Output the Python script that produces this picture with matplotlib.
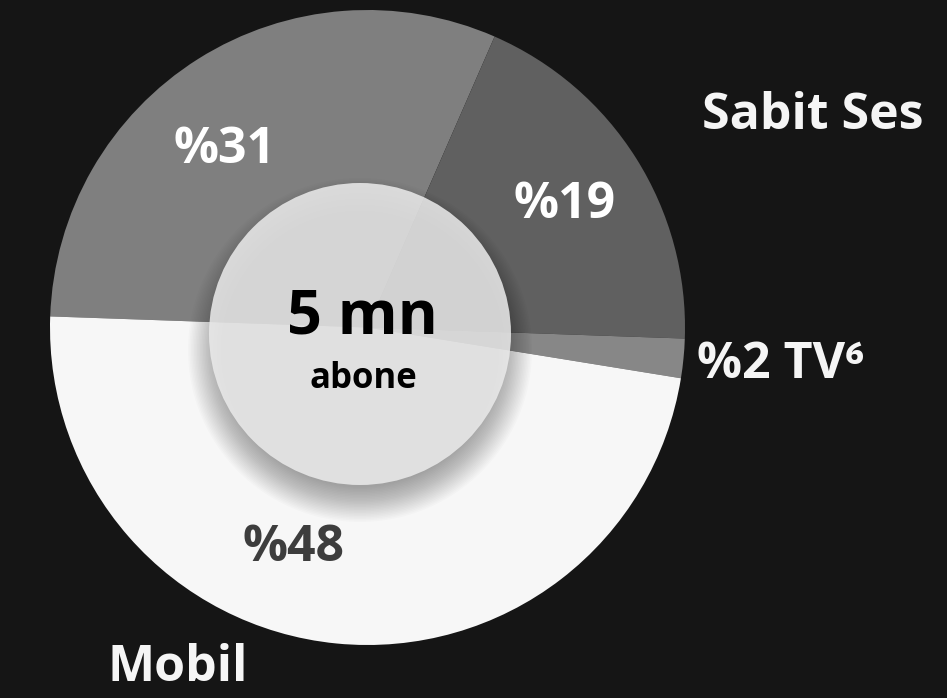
import matplotlib
matplotlib.use('Agg')
import matplotlib.pyplot as plt
from matplotlib.patches import Circle

# subscriber split, in percent
segments = ['Sabit Ses', 'Diger', 'TV', 'Mobil']
shares = [31, 19, 2, 48]
sliceColors = ['#7f7f7f', '#606060', '#878787', '#f7f7f7']
pctLabels = ['%31', '%19', '%2 TV\u2076', '%48']
totalText = '5 mn'
unitText = 'abone'

W, H = 947, 698
plt.rcParams['font.family'] = ['Open Sans', 'DejaVu Sans']

fig = plt.figure(figsize=(W/100., H/100.), dpi=100, facecolor='#151515')
ax = fig.add_axes([0, 0, 1, 1])
ax.set_facecolor('#151515')

pieCenter = (367.5, H-327.5)
ax.pie(shares, colors=sliceColors, startangle=178, counterclock=False,
       center=pieCenter, radius=317.5, wedgeprops=dict(linewidth=0), frame=True)

# soft shadow under the centre disc
discCenter = (360, H-334)
for i in range(24):
    ax.add_patch(Circle((discCenter[0], discCenter[1]-16), 172-i*1.5, color='black', alpha=0.015, lw=0, zorder=3))
ax.add_patch(Circle(discCenter, 151, color='#eaeaea', alpha=0.87, lw=0, zorder=4))

lw = 'bold'
ax.text(discCenter[0]+2, H-318, totalText, ha='center', va='center', fontsize=44, fontweight='bold', color='black', zorder=5)
ax.text(discCenter[0]+3, H-379, unitText, ha='center', va='center', fontsize=25, fontweight=lw, color='black', zorder=5)

ax.text(225, H-150, pctLabels[0], ha='center', va='center', fontsize=36, fontweight=lw, color='white', zorder=5)
ax.text(565, H-205, pctLabels[1], ha='center', va='center', fontsize=36, fontweight=lw, color='white', zorder=5)
ax.text(697, H-365, pctLabels[2], ha='left', va='center', fontsize=36, fontweight=lw, color='#f5f5f5', zorder=5)
ax.text(293, H-548, pctLabels[3], ha='center', va='center', fontsize=36, fontweight=lw, color='#3d3d3d', zorder=5)

ax.text(813, H-116, segments[0], ha='center', va='center', fontsize=36, fontweight=lw, color='#f5f5f5', zorder=5)
ax.text(178, H-668, segments[3], ha='center', va='center', fontsize=36, fontweight=lw, color='#f5f5f5', zorder=5)

ax.set_xlim(0, W)
ax.set_ylim(0, H)
ax.set_aspect('equal')
ax.axis('off')
fig.savefig('out.png', dpi=100, facecolor=fig.get_facecolor())
